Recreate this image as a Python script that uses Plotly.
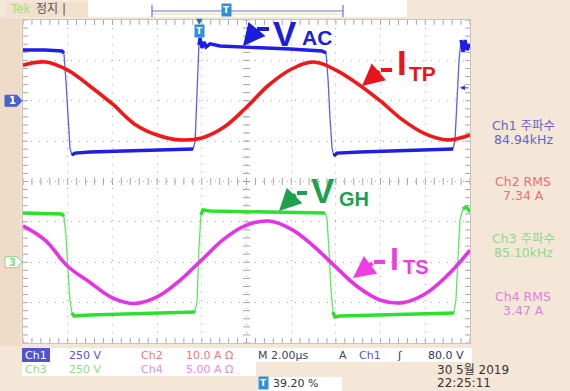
import numpy as np
import plotly.graph_objects as go

# ---------------- data (time in µs, 2 µs/div) ----------------
vac_t = [0.00, 0.98, 1.74, 1.83, 1.92, 2.01, 2.10, 2.19, 2.33, 3.00, 4.79, 6.58, 7.61, 7.70,
         7.79, 7.87, 7.92, 8.01, 8.10, 8.19, 8.37, 8.81, 10.16, 11.95, 13.38, 13.56, 13.65,
         13.74, 13.83, 13.91, 14.05, 15.08, 16.87, 18.66, 19.24, 19.33, 19.42, 19.51, 19.60,
         19.69, 19.78, 19.87, 20.00]
vac_v = [314, 314, 308, 296, 129, -119, -293, -336, -324, -317, -311, -305, -299, -255,
         67, 345, 389, 327, 364, 333, 352, 339, 333, 320, 308, 296, 129,
         -119, -293, -342, -324, -317, -311, -305, -299, -243, 5, 252, 376,
         302, 376, 314, 352]

itp_t = [0, 1, 2, 3, 4, 5, 6, 7, 8, 9, 10, 11, 12, 13, 14, 15, 16, 17, 18, 19, 20]
itp_a = [8.8, 9.6, 7.6, 3.6, -0.8, -5.8, -8.5, -9.7, -9.2, -6.5, -1.6, 3.9, 7.8, 9.6,
         7.6, 4.1, -0.1, -4.8, -8.2, -9.7, -8.5]

vgh_t = [0.00, 1.21, 1.74, 1.83, 1.92, 2.01, 2.10, 2.19, 2.28, 3.00, 4.79, 6.58, 7.70, 7.79,
         7.87, 7.96, 8.05, 8.37, 10.16, 12.39, 13.51, 13.60, 13.69, 13.78, 13.87, 13.96,
         14.18, 15.97, 17.76, 19.28, 19.37, 19.46, 19.55, 19.69, 19.82, 19.91, 20.00]
vgh_v = [305, 299, 299, 286, 169, -48, -234, -314, -333, -327, -320, -314, -308, -234,
         76, 293, 324, 317, 311, 305, 305, 274, 76, -172, -308, -339,
         -333, -327, -320, -314, -234, 14, 262, 330, 342, 330, 311]

its_t = [0, 1, 2, 3, 4, 5, 6, 7, 8, 9, 10, 11, 12, 13, 14, 15, 16, 17, 18, 19, 20]
its_a = [4.5, 2.7, -0.5, -2.5, -4.4, -5.1, -4.3, -2.3, 0.3, 2.9, 4.6, 5.1, 4.1, 2.0,
         -0.6, -3.1, -4.7, -5.0, -3.9, -1.6, 1.5]

ch_names = ["Ch1", "Ch2", "Ch3", "Ch4"]
ch_scale = [250, 10.0, 250, 5.00]          # units per division
ch_scale_text = ["250 V", "10.0 A Ω", "250 V", "5.00 A Ω"]
meas_names = ["Ch1 주파수", "Ch2 RMS", "Ch3 주파수", "Ch4 RMS"]
meas_values = ["84.94kHz", "7.34 A", "85.10kHz", "3.47 A"]
timebase_text = "M 2.00µs"
trig_source, trig_level_text, trig_level = "Ch1", "80.0 V", 80.0
trig_time = 7.88
trig_percent = "39.20 %"
date_text, time_text = "30 5월 2019", "22:25:11"

# ---------------- layout geometry ----------------
W, H = 570, 391
L, R, T, B = 23, 100, 20, 48
PW, PH = W - L - R, H - T - B
ch_pos = [2, 2, -2, -2]   # trace positions in divisions


def px(x):
    return (x - L) / PW


def py(y):
    return (H - B - y) / PH


FONT = "DejaVu Sans, Noto Sans CJK KR, sans-serif"
LBL = "Liberation Sans, Arial, sans-serif"

C_BLUE, C_RED, C_GREEN, C_MAG = "#1e1ee6", "#f01818", "#2ee02e", "#e632e6"


def to_div(vals, i):
    return [v / ch_scale[i] + ch_pos[i] for v in vals]


def plateau(vals, i, thr):
    # keep only the settled levels (fast edges are drawn faint on the scope)
    return [v / ch_scale[i] + ch_pos[i] if abs(v) >= thr else None for v in vals]


fig = go.Figure()

# graticule minor ticks
minor_x = np.round(np.arange(0, 20.001, 0.4), 3)
minor_y = np.round(np.arange(-4, 4.001, 0.2), 3)
TICKC = "#a4a4a4"
for xs, ys, sym, sz in [
    (minor_x, [0] * len(minor_x), "line-ns", 5),
    ([10] * len(minor_y), minor_y, "line-ew", 5),
    (minor_x, [4] * len(minor_x), "line-ns", 7),
    (minor_x, [-4] * len(minor_x), "line-ns", 7),
    ([0] * len(minor_y), minor_y, "line-ew", 7),
    ([20] * len(minor_y), minor_y, "line-ew", 7),
]:
    fig.add_trace(go.Scatter(x=list(xs), y=list(ys), mode="markers", hoverinfo="skip",
                             marker=dict(symbol=sym, size=sz, color=TICKC,
                                         line=dict(width=1, color=TICKC))))

# waveforms: faint full trace + thick settled levels
fig.add_trace(go.Scatter(x=vac_t, y=to_div(vac_v, 0), mode="lines",
                         line=dict(color="#5c5cf0", width=1.3), hoverinfo="skip"))
fig.add_trace(go.Scatter(x=vac_t, y=plateau(vac_v, 0, 295), mode="lines", connectgaps=False,
                         line=dict(color=C_BLUE, width=3.4), hoverinfo="skip"))
fig.add_trace(go.Scatter(x=itp_t, y=to_div(itp_a, 1), mode="lines",
                         line=dict(color=C_RED, width=3.6, shape="spline", smoothing=1.1),
                         hoverinfo="skip"))
fig.add_trace(go.Scatter(x=vgh_t, y=to_div(vgh_v, 2), mode="lines",
                         line=dict(color="#5ee85e", width=1.3), hoverinfo="skip"))
fig.add_trace(go.Scatter(x=vgh_t, y=plateau(vgh_v, 2, 285), mode="lines", connectgaps=False,
                         line=dict(color=C_GREEN, width=3.4), hoverinfo="skip"))
fig.add_trace(go.Scatter(x=its_t, y=to_div(its_a, 3), mode="lines",
                         line=dict(color=C_MAG, width=3.6, shape="spline", smoothing=1.1),
                         hoverinfo="skip"))

shapes = []
ann = []


def rect(x0, y0, x1, y1, fill, line=None):
    shapes.append(dict(type="rect", xref="paper", yref="paper", x0=px(x0), x1=px(x1),
                       y0=py(y1), y1=py(y0), fillcolor=fill,
                       line=dict(width=0 if line is None else 1, color=line or fill)))


def seg(x0, y0, x1, y1, color, width):
    shapes.append(dict(type="line", xref="paper", yref="paper", x0=px(x0), y0=py(y0),
                       x1=px(x1), y1=py(y1), line=dict(color=color, width=width)))


def text(x, y, s, color, size, anchor="left", family=FONT, bg=None, pad=0):
    d = dict(x=px(x), y=py(y), xref="paper", yref="paper", text=s, showarrow=False,
             xanchor=anchor, yanchor="middle", font=dict(size=size, color=color, family=family),
             borderpad=pad)
    if bg:
        d["bgcolor"] = bg
    ann.append(d)


def arrow(x0, y0, xb, yb, xt, yt, color):
    seg(x0, y0, xb, yb, color, 4)
    ann.append(dict(x=px(xt), y=py(yt), xref="paper", yref="paper", text="", showarrow=True,
                    ax=xb - xt, ay=yb - yt, arrowcolor=color, arrowwidth=4, arrowhead=2,
                    arrowsize=1.1))


# background panels
rect(0, 18, 21, 346, "#efdcc8")
rect(88, 0, 407, 17, "#ffffff")
rect(6, 2, 88, 17, "#f1e0cc")
# record bar
seg(152, 11, 343, 11, "#6f6fd8", 1.2)
seg(152, 14, 343, 14, "#e2dba0", 1)
seg(152, 5, 152, 17, "#6f6fd8", 1.2)
seg(343, 5, 343, 17, "#6f6fd8", 1.2)
text(152 + 191 * 0.392, 10, "<b>T</b>", "white", 9, anchor="center", bg="#2f8fd8", pad=1)

# bottom rows
rect(22, 348, 472, 362, "#ffffff")
rect(22, 362, 256, 376, "#ffffff")
rect(258, 377, 342, 391, "#ffffff")
rect(22, 348, 50, 362, "#5252d4")

# channel markers
for i, (fill, edge, tc) in zip([0, 2], [("#4a5fd0", "#4a5fd0", "white"),
                                          ("#ffffff", "#7fd87f", "#7fd87f")]):
    yc = H - B - (ch_pos[i] + 4) / 8 * PH
    pts = [(5, yc - 5.5), (17, yc - 5.5), (22, yc), (17, yc + 5.5), (5, yc + 5.5)]
    path = "M " + " L ".join(f"{px(a):.5f},{py(b):.5f}" for a, b in pts) + " Z"
    shapes.append(dict(type="path", xref="paper", yref="paper", path=path,
                       fillcolor=fill, line=dict(color=edge, width=1)))
    text(12, yc, f"<b>{ch_names[i][-1]}</b>", tc, 10, anchor="center")

# trigger position marker (top of graticule)
ann.append(dict(x=trig_time, y=py(22), xref="x", yref="paper", text="▼", showarrow=False,
                xanchor="center", yanchor="middle", font=dict(size=8, color="#1f6fa8", family=FONT)))
ann.append(dict(x=trig_time, y=py(31), xref="x", yref="paper", text="<b>T</b>", showarrow=False,
                xanchor="center", yanchor="middle", bgcolor="#2f8fd8", borderpad=1,
                font=dict(size=9, color="white", family=FONT)))
# trigger level marker (right edge)
ann.append(dict(x=19.55, y=trig_level / ch_scale[0] + ch_pos[0], xref="x", yref="y", text="",
                showarrow=True, ax=10, ay=0, arrowcolor="#3a3ae0", arrowwidth=1, arrowhead=2,
                arrowsize=1))

# top-left status
text(9, 9, "Tek", "#9ee07a", 12)
text(35, 9, "정지", "#555555", 12)
text(61, 9, "|", "#555555", 12)

# right measurement panel
for k, (yy, col) in enumerate(zip([125, 181, 238, 296], ["#6464c8", "#e87070", "#8ada8a", "#e080e0"])):
    text(523, yy, meas_names[k], col, 12.5, anchor="center")
    text(523, yy + 14, meas_values[k], col, 12.5, anchor="center")

# bottom rows text
text(24, 355, ch_names[0], "white", 11)
text(68, 355, ch_scale_text[0], "#5555cc", 11)
text(140, 355, ch_names[1], "#e87878", 11)
text(185, 355, ch_scale_text[1], "#e87878", 11)
text(257, 355, timebase_text, "#444455", 11)
text(338, 355, "A", "#444455", 11)
text(358, 355, trig_source, "#5555cc", 11)
text(396, 355, "ʃ", "#333366", 11)
text(427, 355, trig_level_text, "#333366", 11)
text(24, 369, ch_names[2], "#88dd88", 11)
text(68, 369, ch_scale_text[2], "#88dd88", 11)
text(140, 369, ch_names[3], "#e58ae5", 11)
text(185, 369, ch_scale_text[3], "#e58ae5", 11)
text(263, 383, "<b>T</b>", "white", 9, anchor="center", bg="#2f8fd8", pad=1)
text(272, 383, trig_percent, "#333333", 11)
text(436, 370, date_text, "#333333", 12)
text(436, 383, time_text, "#333333", 12)

# big waveform labels
C_VAC, C_ITP, C_VGH, C_ITS = "#1c1cdc", "#e8141e", "#1fa050", "#ee3ee0"
text(272, 33, "<b>V</b>", C_VAC, 35, family=LBL)
text(301, 38, "<b>AC</b>", C_VAC, 21, family=LBL)
arrow(269, 29, 257, 29, 243, 46, C_VAC)
text(396, 63, "<b>I</b>", C_ITP, 35, family=LBL)
text(408, 73, "<b>TP</b>", C_ITP, 21, family=LBL)
arrow(392, 70, 381, 70, 362, 86, C_ITP)
text(310, 190, "<b>V</b>", C_VGH, 35, family=LBL)
text(338, 199, "<b>GH</b>", C_VGH, 20, family=LBL)
arrow(307, 193, 297, 193, 279, 211, C_VGH)
text(389, 259, "<b>I</b>", C_ITS, 32, family=LBL)
text(402, 267, "<b>TS</b>", C_ITS, 20, family=LBL)
arrow(385, 262, 374, 262, 353, 278, C_ITS)

GRIDC = "#a8a8a8"
fig.update_layout(
    width=W, height=H, margin=dict(l=L, r=R, t=T, b=B, pad=0),
    paper_bgcolor="#f4e7d8", plot_bgcolor="#ffffff", showlegend=False,
    xaxis=dict(range=[0, 20], dtick=2, tick0=0, showgrid=True, gridcolor=GRIDC, griddash="1px,7px",
               gridwidth=1, zeroline=False, showticklabels=False, ticks="", showline=True,
               linecolor="#c4c4c4", mirror=True, fixedrange=True),
    yaxis=dict(range=[-4, 4], dtick=1, tick0=0, showgrid=True, gridcolor=GRIDC, griddash="1px,7px",
               gridwidth=1, zeroline=False, showticklabels=False, ticks="", showline=True,
               linecolor="#c4c4c4", mirror=True, fixedrange=True),
    shapes=shapes, annotations=ann,
)
fig.write_html("out.html", config={"displayModeBar": False},
               post_script="document.body.style.margin='0';document.body.style.overflow='hidden';")
